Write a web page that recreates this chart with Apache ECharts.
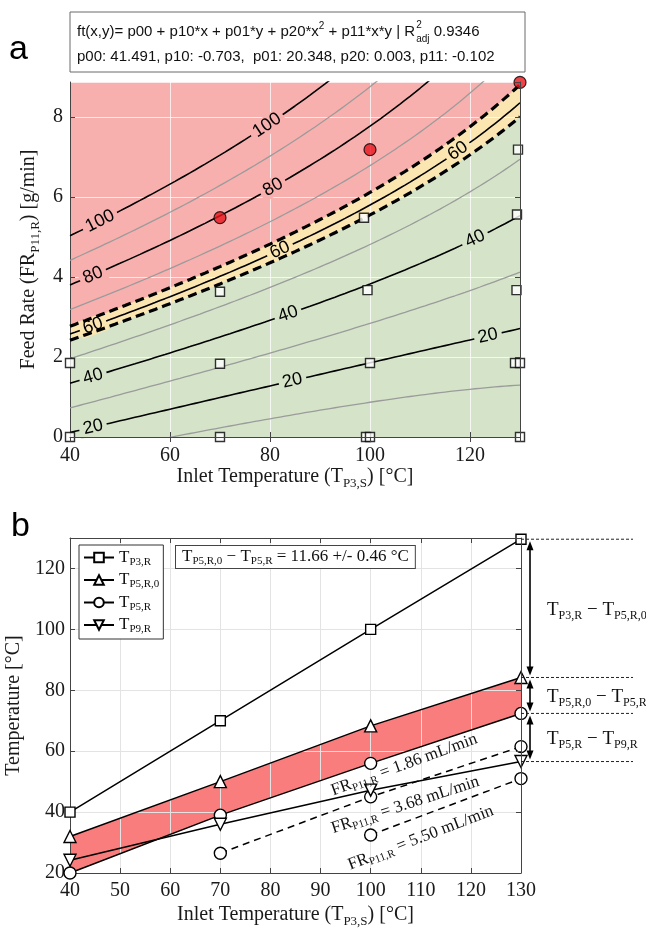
<!DOCTYPE html>
<html>
<head>
<meta charset="utf-8">
<script src="https://cdn.jsdelivr.net/npm/echarts@6.0.0/dist/echarts.min.js"></script>
<style>
html,body{margin:0;padding:0;background:#fff;}
#chart{width:646px;height:933px;}
</style>
</head>
<body>
<div id="chart"></div>
<script>
// ================= DATA =================
// Panel a: fitted surface ft(x,y) = p00 + p10*x + p01*y + p20*x^2 + p11*x*y (coefficients as printed)
const coefNames = ['p00', 'p10', 'p01', 'p20', 'p11'];
const coefValues = [41.491, -0.703, 20.348, 0.003, -0.102];
const r2adj = '0.9346';
const contourLevels = [10, 20, 30, 40, 50, 60, 70, 80, 90, 100];
const labeledLevels = [20, 40, 60, 80, 100];
const boundLevels = [57.5, 63.2];
const passTemps = [40, 40, 70, 70, 70, 99.2, 100, 100, 99.5, 98.8, 130, 129, 130, 129.3, 129.4, 129.6];
const passFeeds = [0, 1.85, 0, 1.83, 3.63, 0, 0, 1.85, 3.67, 5.48, 0, 1.85, 1.85, 3.67, 5.56, 7.18];
const failTemps = [70, 100, 130];
const failFeeds = [5.48, 7.18, 8.86];

// Panel b
const inletTemps = [40, 70, 100, 130];
const tP3R = [40, 70, 100, 129.6];
const tP5R0 = [32, 50, 68.3, 84.2];
const tP5R = [20, 39, 56, 72.4];
const tP9R = [24.2, 36, 47.2, 56.6];
const fr368Temps = [70, 100, 130];
const fr368 = [26.5, 45, 61.5];
const fr550Temps = [100, 130];
const fr550 = [32.5, 51];
const diffMean = '11.66', diffStd = '0.46';
const frValues = ['1.86', '3.68', '5.50'];

// ================= LAYOUT / STYLE =================
const SERIF = "'Liberation Serif', 'Times New Roman', serif";
const SANS = "'Liberation Sans', Arial, sans-serif";
const PINK = '#f8b0ae', YELLOW = '#fbe6b2', GREEN = '#d5e4c9', BANDRED = '#f87d7c';
const contourLabelTemps = {20: [44.6, 84.5, 123.6], 40: [44.6, 83.6, 121], 60: [44.6, 82, 117.6], 80: [44.6, 80.6], 100: [46, 79.4]};
const frLabelAnchors = [[106.7, 55.5], [106.9, 42.3], [110, 31.5]];
const frLabelAngles = [20, 18, 21];

const [p00, p10, p01, p20, p11] = coefValues;
function feedOnLevel(level, t) { return (level - p00 - p10 * t - p20 * t * t) / (p01 + p11 * t); }
const sampleT = [];
for (let t = 40; t <= 130; t += 1) sampleT.push(t);
function levelLine(level) { return sampleT.map(t => [t, feedOnLevel(level, t)]); }
const zip = (xs, ys) => xs.map((x, i) => [x, ys[i]]);

const richAxis = {
  n: {fontFamily: SERIF, fontSize: 20, color: '#1a1a1a', lineHeight: 26},
  s: {fontFamily: SERIF, fontSize: 13, color: '#1a1a1a', lineHeight: 15, verticalAlign: 'bottom'}
};
const axisLabelStyle = {fontFamily: SERIF, fontSize: 20, color: '#1a1a1a'};

const chart = echarts.init(document.getElementById('chart'));

const series = [];
// filled regions (pink = grid background)
series.push({type: 'line', xAxisIndex: 0, yAxisIndex: 0, data: levelLine(boundLevels[1]), symbol: 'none', silent: true,
  lineStyle: {width: 0}, areaStyle: {color: YELLOW, opacity: 1, origin: 'start'}, z: 1});
series.push({type: 'line', xAxisIndex: 0, yAxisIndex: 0, data: levelLine(boundLevels[0]), symbol: 'none', silent: true,
  lineStyle: {width: 0}, areaStyle: {color: GREEN, opacity: 1, origin: 'start'}, z: 1});
// contour lines
contourLevels.forEach(L => {
  const major = labeledLevels.includes(L);
  series.push({type: 'line', xAxisIndex: 0, yAxisIndex: 0, data: levelLine(L), symbol: 'none', silent: true,
    lineStyle: {color: major ? '#000' : '#9b9b9b', width: major ? 1.6 : 1.3}, z: 3});
});
// contour labels (filled after first layout)
series.push({id: 'clabels', type: 'scatter', xAxisIndex: 0, yAxisIndex: 0, data: [], symbolSize: 2, silent: true,
  itemStyle: {color: 'rgba(0,0,0,0)'},
  label: {show: true, position: 'inside', formatter: p => p.name, fontFamily: SANS, fontSize: 18, color: '#000',
    opacity: 1, textBorderWidth: 0, padding: [0, 4]},
  labelLayout: {hideOverlap: false},
  z: 4});
// dashed bounds
boundLevels.forEach(L => {
  series.push({type: 'line', xAxisIndex: 0, yAxisIndex: 0, data: levelLine(L), symbol: 'none', silent: true,
    lineStyle: {color: '#000', width: 3.2, type: [9, 5]}, z: 5});
});
series.push({type: 'scatter', xAxisIndex: 0, yAxisIndex: 0, data: zip(passTemps, passFeeds), symbol: 'rect', symbolSize: 9,
  itemStyle: {color: '#fff', borderColor: '#000', borderWidth: 1.4}, z: 6, clip: false});
series.push({type: 'scatter', xAxisIndex: 0, yAxisIndex: 0, data: zip(failTemps, failFeeds), symbol: 'circle', symbolSize: 12,
  itemStyle: {color: '#e8141c', borderColor: '#000', borderWidth: 1.2}, z: 7, clip: false});

// Panel b
series.push({type: 'custom', xAxisIndex: 1, yAxisIndex: 1, data: [[0]], silent: true, z: 1,
  renderItem: (params, api) => {
    const up = inletTemps.map((t, i) => api.coord([t, tP5R0[i]]));
    const lo = inletTemps.map((t, i) => api.coord([t, tP5R[i]])).reverse();
    return {type: 'polygon', shape: {points: up.concat(lo)}, style: {fill: BANDRED, stroke: 'none'}};
  }});
const lineB = (name, ys, symbol, size) => ({
  name, type: 'line', xAxisIndex: 1, yAxisIndex: 1, data: zip(inletTemps, ys), symbol, symbolSize: size,
  lineStyle: {color: '#000', width: 1.5}, itemStyle: {color: '#fff', borderColor: '#000', borderWidth: 1.4},
  z: 4, clip: false});
series.push(lineB('T_P3,R', tP3R, 'rect', 10));
series.push(lineB('T_P5,R,0', tP5R0, 'triangle', 12));
series.push(lineB('T_P5,R', tP5R, 'circle', 12));
series.push(lineB('T_P9,R', tP9R, 'path://M0,0 L10,0 L5,9 Z', 12));
series.push({type: 'line', xAxisIndex: 1, yAxisIndex: 1, data: zip(fr368Temps, fr368), symbol: 'circle', symbolSize: 12,
  lineStyle: {color: '#000', width: 1.5, type: [7, 5]}, itemStyle: {color: '#fff', borderColor: '#000', borderWidth: 1.4}, z: 3, clip: false});
series.push({type: 'line', xAxisIndex: 1, yAxisIndex: 1, data: zip(fr550Temps, fr550), symbol: 'circle', symbolSize: 12,
  lineStyle: {color: '#000', width: 1.5, type: [7, 5]}, itemStyle: {color: '#fff', borderColor: '#000', borderWidth: 1.4}, z: 3, clip: false});

function mainAxis(o) {
  return Object.assign({
    type: 'value', nameLocation: 'middle', z: 2,
    axisLine: {show: true, lineStyle: {color: '#444', width: 1}},
    axisTick: {show: true, inside: true, length: 5, lineStyle: {color: '#444'}},
    nameTextStyle: {rich: richAxis}
  }, o);
}
function frameAxis(o) {
  return Object.assign({
    type: 'value', z: 8,
    axisLine: {show: true, lineStyle: {color: '#444', width: 1}},
    axisTick: {show: true, inside: true, length: 5, lineStyle: {color: '#444'}},
    axisLabel: {show: false}, splitLine: {show: false}
  }, o);
}

const option = {
  animation: false,
  backgroundColor: '#fff',
  grid: [
    {left: 70, top: 82, width: 450, height: 355, show: true, backgroundColor: PINK, borderWidth: 0, containLabel: false, outerBoundsMode: 'none'},
    {left: 70, top: 538, width: 451, height: 335, show: true, backgroundColor: '#fff', borderWidth: 0, containLabel: false, outerBoundsMode: 'none'}
  ],
  xAxis: [
    mainAxis({gridIndex: 0, min: 40, max: 130, interval: 20, axisLabel: Object.assign({showMaxLabel: false, margin: 9}, axisLabelStyle),
      splitLine: {show: true, lineStyle: {color: 'rgba(255,255,255,0.75)', width: 1}},
      name: '{n|Inlet Temperature (T}{s|P3,S}{n|) [°C]}', nameGap: 25}),
    mainAxis({gridIndex: 1, min: 40, max: 130, interval: 10, axisLabel: Object.assign({showMaxLabel: true, margin: 8}, axisLabelStyle),
      splitLine: {show: true, lineStyle: {color: '#e3e3e3', width: 1}},
      name: '{n|Inlet Temperature (T}{s|P3,S}{n|) [°C]}', nameGap: 29}),
    frameAxis({gridIndex: 0, min: 40, max: 130, interval: 20, position: 'top'}),
    frameAxis({gridIndex: 1, min: 40, max: 130, interval: 10, position: 'top'})
  ],
  yAxis: [
    mainAxis({gridIndex: 0, min: 0, max: 8.87, interval: 2, axisLabel: Object.assign({showMaxLabel: false, margin: 7}, axisLabelStyle),
      splitLine: {show: true, lineStyle: {color: 'rgba(255,255,255,0.75)', width: 1}},
      name: '{n|Feed Rate (FR}{s|P11,R}{n|) [g/min]}', nameGap: 28}),
    mainAxis({gridIndex: 1, min: 20, max: 130, interval: 20, axisLabel: Object.assign({showMaxLabel: false, margin: 5}, axisLabelStyle),
      splitLine: {show: true, lineStyle: {color: '#e3e3e3', width: 1}},
      name: '{n|Temperature [°C]}', nameGap: 34}),
    frameAxis({gridIndex: 0, min: 0, max: 8.87, interval: 2, position: 'right'}),
    frameAxis({gridIndex: 1, min: 20, max: 130, interval: 20, position: 'right'})
  ],
  legend: {
    show: true, orient: 'vertical', left: 79, top: 545, selectedMode: false,
    data: ['T_P3,R', 'T_P5,R,0', 'T_P5,R', 'T_P9,R'],
    itemWidth: 30, itemHeight: 12, itemGap: 4, padding: [4, 4, 4, 4],
    borderColor: '#333', borderWidth: 1, backgroundColor: '#fff', borderRadius: 0,
    formatter: name => '{t|T}{s|' + name.split('_')[1] + '}',
    textStyle: {rich: {
      t: {fontFamily: SERIF, fontSize: 17, color: '#111', lineHeight: 20},
      s: {fontFamily: SERIF, fontSize: 11, color: '#111', lineHeight: 12, verticalAlign: 'bottom'}
    }}
  },
  series
};
chart.setOption(option);

// ====== second pass: labels and annotations positioned via the axes ======
const pxA = v => chart.convertToPixel({gridIndex: 0}, v);
const pxB = v => chart.convertToPixel({gridIndex: 1}, v);

const labelData = [];
labeledLevels.forEach(L => {
  contourLabelTemps[L].forEach(t => {
    const a = pxA([t - 0.5, feedOnLevel(L, t - 0.5)]);
    const b = pxA([t + 0.5, feedOnLevel(L, t + 0.5)]);
    const ang = -Math.atan2(b[1] - a[1], b[0] - a[0]) * 180 / Math.PI;
    labelData.push({value: [t, feedOnLevel(L, t)], name: String(L),
      label: {rotate: ang, backgroundColor: L > 60 ? PINK : (L === 60 ? YELLOW : GREEN)}});
  });
});
chart.setOption({series: [{id: 'clabels', data: labelData}]});

const ctx = document.createElement('canvas').getContext('2d');
function tw(s, size) { ctx.font = size + 'px ' + SANS; return ctx.measureText(s).width; }

const g = [];
// panel letters
g.push({type: 'text', x: 9, y: 50, style: {text: 'a', fontFamily: SANS, fontSize: 34, fill: '#000', verticalAlign: 'middle'}});
g.push({type: 'text', x: 11, y: 527, style: {text: 'b', fontFamily: SANS, fontSize: 34, fill: '#000', verticalAlign: 'middle'}});

// formula box
g.push({type: 'rect', shape: {x: 70, y: 12, width: 455, height: 60}, style: {fill: '#fff', stroke: '#6a6a6a', lineWidth: 1}, z: 10});
const fs = 15, ss = 10, x0 = 77, yr1 = 32, yr2 = 57;
const part1 = 'ft(x,y)= p00 + p10*x + p01*y + p20*x';
const part2 = ' + p11*x*y | R';
let cx = x0;
const txt = (x, y, text, size) => ({type: 'text', x, y, z: 11,
  style: {text, fontFamily: SANS, fontSize: size, fill: '#111', verticalAlign: 'middle', align: 'left'}});
g.push(txt(cx, yr1, part1, fs)); cx += tw(part1, fs);
g.push(txt(cx, yr1 - 6, '2', ss)); cx += tw('2', ss);
g.push(txt(cx, yr1, part2, fs)); cx += tw(part2, fs) + 1;
g.push(txt(cx, yr1 - 7, '2', ss));
g.push(txt(cx, yr1 + 7, 'adj', ss)); cx += tw('adj', ss);
g.push(txt(cx, yr1, ' ' + r2adj, fs));
const row2 = coefNames.map((n, i) => n + ': ' + coefValues[i].toFixed(3) + (i === 1 ? ',  ' : (i < 4 ? ', ' : ''))).join('');
g.push(txt(x0, yr2, row2, fs));

// panel b statistics box
g.push({type: 'text', x: 176, y: 546, z: 11, style: {
  text: '{t|T}{s|P5,R,0}{t| − T}{s|P5,R}{t| = ' + diffMean + ' +/- ' + diffStd + ' °C}',
  rich: {t: {fontFamily: SERIF, fontSize: 17, fill: '#111', lineHeight: 20}, s: {fontFamily: SERIF, fontSize: 11, fill: '#111', lineHeight: 11, verticalAlign: 'bottom'}},
  backgroundColor: '#fff', borderColor: '#444', borderWidth: 1, padding: [1, 6, 1, 6], align: 'left', verticalAlign: 'top'}});

// right-side difference annotations
const lastIdx = inletTemps.length - 1;
const tEnd = inletTemps[lastIdx];
const levelsR = [tP3R[lastIdx], tP5R0[lastIdx], tP5R[lastIdx], tP9R[lastIdx]];
const xr = pxB([tEnd, levelsR[0]])[0];
const ys = levelsR.map(v => pxB([tEnd, v])[1]);
ys.forEach(y => g.push({type: 'line', z: 9, shape: {x1: xr, y1: y, x2: xr + 112, y2: y}, style: {stroke: '#222', lineWidth: 1, lineDash: [3, 2]}}));
const xa = xr + 9;
for (let i = 0; i < 3; i++) {
  const y1 = ys[i] + 2, y2 = ys[i + 1] - 2;
  g.push({type: 'line', z: 9, shape: {x1: xa, y1: y1 + 4, x2: xa, y2: y2 - 4}, style: {stroke: '#000', lineWidth: 1.6}});
  g.push({type: 'polygon', z: 9, shape: {points: [[xa, y1], [xa - 3.5, y1 + 9], [xa + 3.5, y1 + 9]]}, style: {fill: '#000'}});
  g.push({type: 'polygon', z: 9, shape: {points: [[xa, y2], [xa - 3.5, y2 - 9], [xa + 3.5, y2 - 9]]}, style: {fill: '#000'}});
}
const diffNames = [['P3,R', 'P5,R,0'], ['P5,R,0', 'P5,R'], ['P5,R', 'P9,R']];
const richR = {t: {fontFamily: SERIF, fontSize: 19, fill: '#111', lineHeight: 22}, s: {fontFamily: SERIF, fontSize: 12, fill: '#111', lineHeight: 12, verticalAlign: 'bottom'}};
diffNames.forEach((d, i) => {
  g.push({type: 'text', z: 10, x: xr + 26, y: (ys[i] + ys[i + 1]) / 2 + 2, style: {
    text: '{t|T}{s|' + d[0] + '}{t| − T}{s|' + d[1] + '}', rich: richR, align: 'left', verticalAlign: 'middle'}});
});

// feed-rate labels along lines
const richFR = {t: {fontFamily: SERIF, fontSize: 17, fill: '#111', lineHeight: 20}, s: {fontFamily: SERIF, fontSize: 11, fill: '#111', lineHeight: 11, verticalAlign: 'bottom'}};
frValues.forEach((v, i) => {
  const p = pxB(frLabelAnchors[i]);
  g.push({type: 'text', z: 10, x: p[0], y: p[1], rotation: frLabelAngles[i] * Math.PI / 180, style: {
    text: '{t|FR}{s|P11,R}{t| = ' + v + ' mL/min}', rich: richFR, align: 'center', verticalAlign: 'middle'}});
});

chart.setOption({graphic: {elements: g}});
</script>
</body>
</html>
